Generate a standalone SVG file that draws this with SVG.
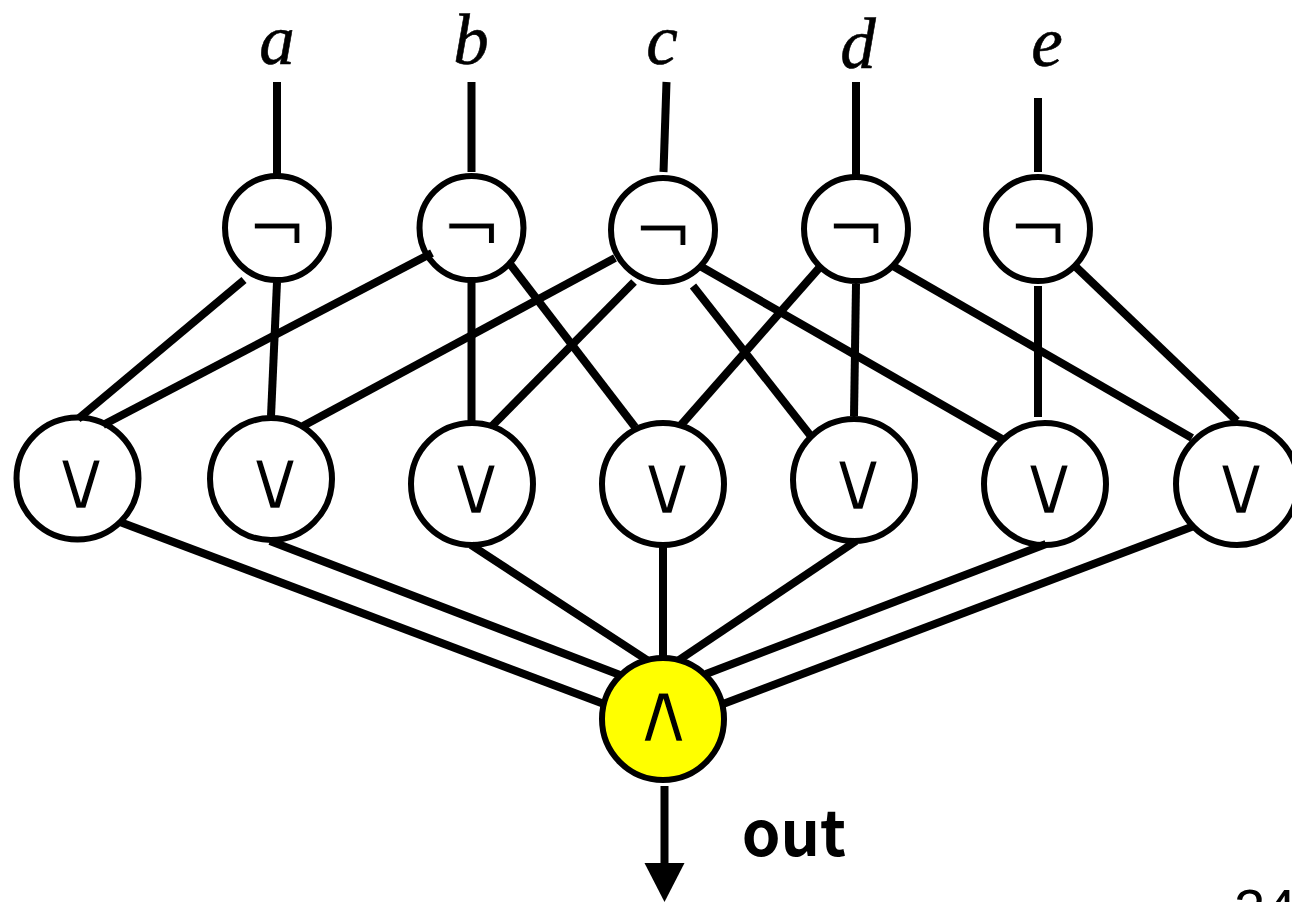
<svg xmlns="http://www.w3.org/2000/svg" width="1292" height="902" viewBox="0 0 1292 902">
<style>
.c{fill:#fff;stroke:#000;stroke-width:6}
.y{fill:#ff0;stroke:#000;stroke-width:6}
#connectors line{stroke:#000;stroke-width:8;fill:none}
.v{font-family:"DejaVu Sans",sans-serif;font-size:86px;text-anchor:middle;fill:#000;stroke:#fff;stroke-width:2.4}
#and .v{stroke:#ff0}
.n{font-family:"DejaVu Sans",sans-serif;font-size:73px;text-anchor:middle;fill:#000;stroke:#fff;stroke-width:1}
.i{font-family:"Liberation Serif",serif;font-style:italic;font-size:71px;text-anchor:middle;fill:#000;stroke:#000;stroke-width:.6}
</style>
<g id="not-a"><circle class="c" cx="277" cy="228" r="52"/><text class="n" x="277" y="254">¬</text></g>
<g id="not-b"><circle class="c" cx="471.5" cy="228" r="52"/><text class="n" x="471.5" y="254">¬</text></g>
<g id="not-c"><circle class="c" cx="663" cy="230" r="52"/><text class="n" x="663" y="256">¬</text></g>
<g id="not-d"><circle class="c" cx="856" cy="229" r="52"/><text class="n" x="856" y="254">¬</text></g>
<g id="not-e"><circle class="c" cx="1038" cy="229" r="52"/><text class="n" x="1038" y="254">¬</text></g>
<g id="or-1"><circle class="c" cx="77.5" cy="478.5" r="61"/><text class="v" x="81" y="509">∨</text></g>
<g id="or-2"><circle class="c" cx="271" cy="479" r="61"/><text class="v" x="275" y="509">∨</text></g>
<g id="or-3"><circle class="c" cx="472" cy="484" r="61"/><text class="v" x="476" y="514">∨</text></g>
<g id="or-4"><circle class="c" cx="663" cy="484" r="61"/><text class="v" x="667" y="514">∨</text></g>
<g id="or-5"><circle class="c" cx="854" cy="480" r="61"/><text class="v" x="858" y="510">∨</text></g>
<g id="or-6"><circle class="c" cx="1045" cy="484" r="61"/><text class="v" x="1049" y="514">∨</text></g>
<g id="or-7"><circle class="c" cx="1237" cy="484" r="61"/><text class="v" x="1241" y="514">∨</text></g>
<g id="and"><circle class="y" cx="663" cy="719" r="61"/><text class="v" x="663.5" y="742">∧</text></g>
<g id="connectors">
<line x1="277" y1="82" x2="277" y2="174"/>
<line x1="471.5" y1="82" x2="471.5" y2="172"/>
<line x1="666.5" y1="82" x2="663.5" y2="172"/>
<line x1="856" y1="82" x2="856" y2="176"/>
<line x1="1038" y1="98" x2="1038" y2="172"/>
<line x1="244" y1="280" x2="78" y2="419"/>
<line x1="277" y1="282" x2="271" y2="416"/>
<line x1="432" y1="253" x2="103" y2="425"/>
<line x1="471.5" y1="282" x2="471.5" y2="421"/>
<line x1="510" y1="264" x2="635" y2="427"/>
<line x1="615" y1="258" x2="303" y2="426"/>
<line x1="634" y1="282" x2="491" y2="427"/>
<line x1="693" y1="286" x2="810" y2="435"/>
<line x1="700" y1="266" x2="1002" y2="439"/>
<line x1="820" y1="267" x2="681" y2="425"/>
<line x1="856" y1="284" x2="854" y2="416"/>
<line x1="893" y1="266" x2="1192" y2="438"/>
<line x1="1038" y1="286" x2="1038" y2="417"/>
<line x1="1076" y1="267" x2="1237" y2="421"/>
<line x1="120" y1="522" x2="604" y2="704"/>
<line x1="270" y1="541" x2="620" y2="675"/>
<line x1="471" y1="545" x2="647" y2="660"/>
<line x1="663" y1="547" x2="663" y2="656"/>
<line x1="856" y1="541" x2="679" y2="660"/>
<line x1="1046" y1="544" x2="706" y2="674"/>
<line x1="1194" y1="526" x2="723" y2="704"/>
<line x1="664.5" y1="786" x2="664.5" y2="866"/>
<polygon points="644.5,863 684.5,863 664.5,902" fill="#000"/>
</g>
<g id="labels">
<text class="i" x="277" y="64">a</text>
<text class="i" x="471" y="64">b</text>
<text class="i" x="662" y="64">c</text>
<text class="i" x="858" y="68">d</text>
<text class="i" x="1047" y="66">e</text>
<text x="794" y="856" font-family="'Noto Sans CJK JP','Noto Sans',sans-serif" font-weight="700" font-size="62" text-anchor="middle">out</text>
<text x="1234" y="928" font-family="'Liberation Sans',sans-serif" font-size="56">24</text>
</g>
</svg>
